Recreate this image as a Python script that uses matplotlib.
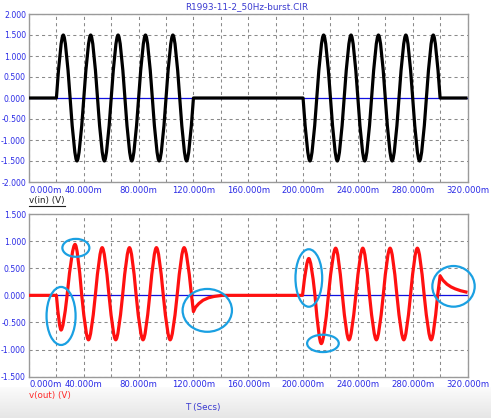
import numpy as np
import matplotlib
matplotlib.use("Agg")
import matplotlib.pyplot as plt
from matplotlib.path import Path
from matplotlib.patches import PathPatch, Ellipse
from matplotlib.lines import Line2D

# ---------------- data (time in ms, volts) ----------------
# key points: c = corner, z = zero crossing, p = peak/trough
vin_t = [0, 20, 25, 30, 35, 40, 45, 50, 55, 60, 65, 70, 75, 80, 85, 90, 95, 100,
         105, 110, 115, 120,
         200, 205, 210, 215, 220, 225, 230, 235, 240, 245, 250, 255, 260, 265,
         270, 275, 280, 285, 290, 295, 300, 320]
vin_v = [0, 0, 1.5, 0, -1.5, 0, 1.5, 0, -1.5, 0, 1.5, 0, -1.5, 0, 1.5, 0, -1.5, 0,
         1.5, 0, -1.5, 0,
         0, -1.5, 0, 1.5, 0, -1.5, 0, 1.5, 0, -1.5, 0, 1.5, 0, -1.5,
         0, 1.5, 0, -1.5, 0, 1.5, 0, 0]
vin_k = "cz" + "pz" * 10 + "z" + "pz" * 10 + "c"

vout_t = [0, 20, 23.4, 27.8, 33.6, 38.5, 43.4, 48.4, 53.4, 58.4, 63.3, 68.3, 73.3,
          78.2, 83.2, 88.1, 93.0, 98.0, 103.0, 108.1, 113.2, 118.6,
          120, 121.5, 124, 127, 131, 135, 141,
          199.6, 204.2, 208.7, 213.3, 218.5, 223.8, 228.7, 233.5, 238.5, 243.6,
          248.5, 253.5, 258.5, 263.5, 268.5, 273.5, 278.4, 283.4, 288.4, 293.5, 298.2,
          300, 302, 305, 308, 311, 315, 320]
vout_v = [0, 0, -0.64, 0, 0.94, 0, -0.82, 0, 0.88, 0, -0.82, 0, 0.88,
          0, -0.82, 0, 0.88, 0, -0.82, 0, 0.88, 0,
          -0.30, -0.22, -0.15, -0.09, -0.045, -0.02, 0,
          0, 0.68, 0, -0.89, 0, 0.87, 0, -0.82, 0, 0.87,
          0, -0.82, 0, 0.87, 0, -0.82, 0, 0.87, 0, -0.82, 0,
          0.36, 0.28, 0.205, 0.155, 0.12, 0.085, 0.055]
vout_k = "cz" + "pz" * 10 + "c" * 7 + "z" + "pz" * 10 + "c" * 7

# highlight ellipses on v(out): centre t, centre v, width ms, height V
ell_t = [23.4, 34.2, 130.1, 204.2, 214.5, 309.8]
ell_v = [-0.38, 0.876, -0.277, 0.32, -0.886, 0.166]
ell_w = [21.2, 19.7, 36.0, 19.5, 23.1, 30.9]
ell_h = [1.07, 0.33, 0.79, 1.06, 0.32, 0.75]

x_ticks = list(range(0, 321, 20))
x_labels = [("%.3fm" % x) if x % 40 == 0 else "" for x in x_ticks]
y1_ticks = [-2.0, -1.5, -1.0, -0.5, 0.0, 0.5, 1.0, 1.5, 2.0]
y2_ticks = [-1.5, -1.0, -0.5, 0.0, 0.5, 1.0, 1.5]

title = "R1993-11-2_50Hz-burst.CIR"

# ---------------- style ----------------
W, H = 491, 418
TICK_C = "#2a2ae6"
TITLE_C = "#3a3ad0"
GRID_C = "#8a8a8a"
SPINE_C = "#9a9a9a"
FSX = 6.1
FSY = 5.6
K = 0.637  # quadratic control fraction for a quarter sine


def curve_path(ts, vs, ks):
    verts = [(ts[0], vs[0])]
    codes = [Path.MOVETO]
    for i in range(1, len(ts)):
        a, b = i - 1, i
        if {ks[a], ks[b]} == {"z", "p"}:
            zi, pi = (a, b) if ks[a] == "z" else (b, a)
            ctrl = (ts[zi] + K * (ts[pi] - ts[zi]), vs[pi])
            verts += [ctrl, (ts[b], vs[b])]
            codes += [Path.CURVE3, Path.CURVE3]
        else:
            verts.append((ts[b], vs[b]))
            codes.append(Path.LINETO)
    return Path(verts, codes)


fig = plt.figure(figsize=(W / 100, H / 100), dpi=100)
fig.patch.set_facecolor("white")

# bottom grey gradient strip
bg = fig.add_axes([0, 0, 1, 0.075], zorder=-10)
grad = np.linspace(0, 1, 50).reshape(-1, 1)
bg.imshow(grad, aspect="auto", cmap=matplotlib.colors.LinearSegmentedColormap.from_list(
    "g", ["#e6e6e6", "#fcfcfc"]), origin="lower", extent=[0, 1, 0, 1])
bg.axis("off")

ax1 = fig.add_axes([29 / W, 1 - 182 / H, 438.5 / W, 168 / H])
ax2 = fig.add_axes([29 / W, 1 - 376.7 / H, 438.5 / W, 162.7 / H])


def style(ax, yt):
    ax.set_xlim(0, 320)
    ax.set_ylim(yt[0], yt[-1])
    ax.set_xticks(x_ticks)
    ax.set_xticklabels(x_labels)
    ax.set_yticks(yt)
    ax.set_yticklabels(["%.3f" % y for y in yt])
    ax.get_xticklabels()[0].set_horizontalalignment("left")
    ax.tick_params(axis="x", length=0, pad=2.6, labelsize=FSX, labelcolor=TICK_C)
    ax.tick_params(axis="y", length=0, pad=2.2, labelsize=FSY, labelcolor=TICK_C)
    ax.grid(True, color=GRID_C, linestyle=(0, (3, 3)), lw=0.75)
    ax.set_axisbelow(True)
    for s in ax.spines.values():
        s.set_color(SPINE_C)
        s.set_linewidth(1.0)
    ax.axhline(0, color="#1010e0", lw=0.9, zorder=1.5)


style(ax1, y1_ticks)
style(ax2, y2_ticks)

ax1.add_patch(PathPatch(curve_path(vin_t, vin_v, vin_k), fill=False,
                        edgecolor="black", lw=2.3, joinstyle="round",
                        capstyle="butt", zorder=3))
ax2.add_patch(PathPatch(curve_path(vout_t, vout_v, vout_k), fill=False,
                        edgecolor="#ff1010", lw=2.3, joinstyle="round",
                        capstyle="butt", zorder=3))

for t, v, w, h in zip(ell_t, ell_v, ell_w, ell_h):
    ax2.add_patch(Ellipse((t, v), w, h, fill=False, edgecolor="#1aa0e2",
                          lw=1.6, zorder=4, clip_on=False))

# texts
fig.text(246.7 / W, 1 - 7 / H, title, ha="center", va="center",
         fontsize=6.4, color=TITLE_C)
tin = fig.text(29 / W, 1 - 201 / H, "v(in) (V)", ha="left", va="center",
               fontsize=6.3, color="#202020")
fig.text(29 / W, 1 - 395.5 / H, "v(out) (V)", ha="left", va="center",
         fontsize=6.3, color="#ff2a2a")
fig.text(202.3 / W, 1 - 407.5 / H, "T (Secs)", ha="center", va="center",
         fontsize=6.3, color=TITLE_C)

fig.canvas.draw()
bb = tin.get_window_extent()
uy = bb.y0 - 0.5
fig.add_artist(Line2D([bb.x0 / W, bb.x1 / W], [uy / H, uy / H],
                      color="#202020", lw=0.8, transform=fig.transFigure))

fig.savefig("out.png", dpi=100)
